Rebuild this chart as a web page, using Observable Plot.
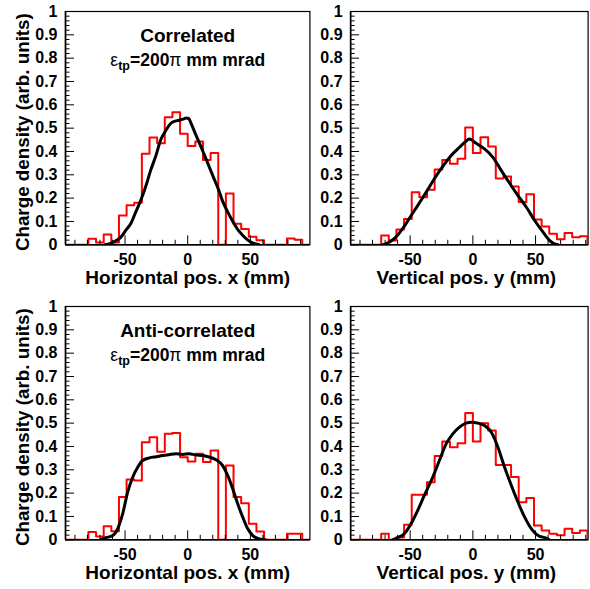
<!DOCTYPE html>
<html><head><meta charset="utf-8">
<script src="https://cdn.jsdelivr.net/npm/d3@7"></script>
<script src="https://cdn.jsdelivr.net/npm/@observablehq/plot@0.6"></script>
<style>
body{margin:0;background:#fff;}
#chart{position:relative;width:590px;height:589px;overflow:hidden;background:#fff;}
#chart svg{position:absolute;}
</style></head><body><div id="chart"></div>
<script>
// ---- histogram binning (32 bins across the axis range) ----
const binStart = -97.5;
const binWidth = 6.09375;

// ---- red histograms (measured) ----
const histCorrX = [0,0,0,0.026,0.01,0.044,0.01,0.126,0.17,0.18,0.39,0.46,0.435,0.547,0.568,0.476,0.423,0.443,0.364,0.394,0,0.22,0.09,0.068,0.035,0.019,0,0,0,0.027,0.022,0];
const histCorrY = [0,0,0,0,0.04,0.018,0.066,0.111,0.225,0.204,0.236,0.323,0.364,0.347,0.369,0.503,0.393,0.461,0.421,0.284,0.293,0.25,0.183,0.217,0.108,0.078,0.047,0.024,0.051,0.032,0.037,0];
const histAntiX = [0,0,0,0.033,0.014,0.058,0.037,0.183,0.258,0.254,0.418,0.44,0.377,0.455,0.458,0.354,0.336,0.369,0.333,0.383,0,0.318,0.183,0.157,0.069,0.036,0,0,0,0.026,0.026,0];
const histAntiY = [0,0,0,0,0.026,0,0.01,0.065,0.193,0.193,0.247,0.359,0.421,0.397,0.414,0.544,0.421,0.5,0.469,0.321,0.321,0.269,0.161,0.179,0.061,0.04,0.026,0.019,0.047,0.029,0.04,0];

// ---- black simulated curves (position mm, density) ----
const simCorrXpos = [-66,-62,-57,-53,-49,-45.5,-41.5,-37.5,-33.5,-29.5,-25.5,-21.5,-17.5,-13.6,-10,-6,-3,-1,1,2.7,6.6,11.4,16,20.5,24.7,28,32,36,40,44,48,52.4,57];
const simCorrXval = [0,0.005,0.018,0.035,0.065,0.09,0.14,0.19,0.25,0.32,0.38,0.45,0.49,0.52,0.53,0.535,0.54,0.544,0.54,0.52,0.47,0.41,0.35,0.29,0.235,0.185,0.14,0.1,0.065,0.04,0.02,0.007,0];
const simCorrYpos = [-72,-69.4,-62.7,-56,-50.1,-44,-37.3,-30.7,-24,-17.3,-10.7,-4.8,-2.7,2.7,9.3,16,22.7,29.3,36,42.7,49.3,56,61.3,66.7,68];
const simCorrYval = [0,0.004,0.026,0.069,0.118,0.168,0.225,0.283,0.336,0.383,0.418,0.447,0.454,0.435,0.411,0.375,0.318,0.264,0.211,0.161,0.104,0.054,0.018,0.001,0];
const simAntiXpos = [-70,-65.2,-59.9,-55.9,-51.9,-47.9,-43.9,-39.9,-35.9,-30.6,-25,-20,-15,-9.3,-4,1.3,6,12,17,22.6,27.9,31.9,35.9,39.9,43.9,47.9,51.9,57.2,62];
const simAntiXval = [0,0.009,0.018,0.047,0.111,0.204,0.268,0.311,0.34,0.351,0.356,0.361,0.365,0.369,0.366,0.369,0.364,0.361,0.355,0.343,0.318,0.276,0.219,0.154,0.097,0.047,0.018,0.004,0];
const simAntiYpos = [-64,-60,-54.7,-49.3,-44,-38.7,-32,-26.7,-21.3,-16,-10.7,-5.3,-1.3,4,9.3,14.7,20,25.3,30.7,36,41.3,46.7,52,57.3,61];
const simAntiYval = [0,0.009,0.026,0.069,0.126,0.19,0.268,0.34,0.411,0.454,0.483,0.5,0.504,0.5,0.49,0.461,0.397,0.311,0.233,0.161,0.097,0.047,0.018,0.009,0];

// ---- ticks & texts ----
const xMajorTicks = [-50, 0, 50];
const xMinorTicks = [-90,-80,-70,-60,-40,-30,-20,-10,10,20,30,40,60,70,80,90];
const yMajorTicks = [0,0.1,0.2,0.3,0.4,0.5,0.6,0.7,0.8,0.9,1];
const yMinorTicks = d3.range(0, 1.0001, 0.02).filter(v => Math.abs(v*10 - Math.round(v*10)) > 1e-6);
const yTitle = "Charge density (arb. units)";
const xTitleH = "Horizontal pos. x (mm)";
const xTitleV = "Vertical pos. y (mm)";
const titleCorr = "Correlated";
const titleAnti = "Anti-correlated";
const emitLine = "εtp=200π mm mrad";

const FONT = "'Liberation Sans', Arial, Helvetica, sans-serif";

function panel(o) {
  const fw = o.width - o.mLeft - o.mRight;
  const fh = o.height - o.mTop - o.mBottom;
  const histPts = o.hist.map((v, k) => ({x: binStart + k * binWidth, v}));
  histPts.push({x: binStart + o.hist.length * binWidth, v: 0});
  const simPts = o.simX.map((x, i) => ({x, v: o.simV[i]}));
  const marks = [
    Plot.line(histPts, {x: "x", y: "v", curve: "step-after", stroke: "#ff0000", strokeWidth: 2, clip: true}),
    Plot.line(simPts, {x: "x", y: "v", curve: "monotone-x", stroke: "#000", strokeWidth: 3, clip: true}),
    Plot.frame({stroke: "#000", strokeWidth: 1.2}),
    Plot.ruleY([0], {stroke: "#000", strokeWidth: 1.6}),
    Plot.ruleX([o.xDomain[0]], {stroke: "#000", strokeWidth: 1.6}),
    Plot.ruleX(xMinorTicks, {x: d => d, insetTop: fh - 4.5, stroke: "#000", strokeWidth: 1}),
    Plot.ruleX(xMajorTicks, {x: d => d, insetTop: fh - 9, stroke: "#000", strokeWidth: 1}),
    Plot.ruleY(yMinorTicks, {y: d => d, insetRight: fw - 4.5, stroke: "#000", strokeWidth: 1}),
    Plot.ruleY(yMajorTicks, {y: d => d, insetRight: fw - 9, stroke: "#000", strokeWidth: 1}),
    Plot.text(yMajorTicks, {y: d => d, text: d => (d === 0 || d === 1) ? String(d) : d.toFixed(1), frameAnchor: "left", dx: -8, textAnchor: "end", lineAnchor: "middle", fontSize: 16, fontWeight: "bold", fill: "#000"}),
    Plot.text(xMajorTicks, {x: d => d, text: d => d < 0 ? "-" + Math.abs(d) : String(d), frameAnchor: "bottom", dy: 8.7, textAnchor: "middle", lineAnchor: "top", fontSize: 16, fontWeight: "bold", fill: "#000"}),
    Plot.text([o.xTitle], {text: d => d, frameAnchor: "bottom", dy: 33, dx: o.xTitleDx || 0, textAnchor: "middle", lineAnchor: "middle", fontSize: 19, fontWeight: "bold", fill: "#000"})
  ];
  if (o.yTitle) marks.push(Plot.text([o.yTitle], {text: d => d, frameAnchor: "left", dx: -43, dy: 4, rotate: -90, textAnchor: "middle", lineAnchor: "middle", fontSize: 18.8, fontWeight: "bold", fill: "#000"}));
  if (o.title) {
    marks.push(Plot.text([o.title], {text: d => d, frameAnchor: "top", dy: 24.6, textAnchor: "middle", lineAnchor: "middle", fontSize: 19, fontWeight: "bold", fill: "#000"}));
    marks.push(Plot.text([emitLine], {text: d => d, frameAnchor: "top", dy: 48.5, textAnchor: "middle", lineAnchor: "middle", fontSize: 17.5, fontWeight: "bold", fill: "#000"}));
  }
  const svg = Plot.plot({
    width: o.width, height: o.height,
    marginLeft: o.mLeft, marginRight: o.mRight, marginTop: o.mTop, marginBottom: o.mBottom,
    x: {domain: o.xDomain, axis: null},
    y: {domain: [0, 1], axis: null},
    style: {background: "transparent", fontFamily: FONT, color: "#000", overflow: "visible"},
    marks
  });
  // rich text for the emittance line: subscript "tp", symbol-weight ε and π
  svg.querySelectorAll("text").forEach(t => {
    if (t.textContent === emitLine) {
      t.textContent = "";
      const parts = [
        {s: "ε", w: "normal"},
        {s: "tp", w: "bold", size: 12.5, dy: "0.35em"},
        {s: "=200", w: "bold", dy: "-0.25em"},
        {s: "π", w: "normal"},
        {s: " mm mrad", w: "bold"}
      ];
      for (const p of parts) {
        const ts = document.createElementNS("http://www.w3.org/2000/svg", "tspan");
        ts.textContent = p.s;
        ts.setAttribute("font-weight", p.w);
        if (p.size) ts.setAttribute("font-size", p.size);
        if (p.dy) ts.setAttribute("dy", p.dy);
        t.appendChild(ts);
      }
    }
  });
  svg.style.left = o.left + "px";
  svg.style.top = o.top + "px";
  return svg;
}

const chart = document.getElementById("chart");
chart.appendChild(panel({hist: histCorrX, simX: simCorrXpos, simV: simCorrXval, left: 0, top: 0, width: 320, height: 295, mLeft: 65, mRight: 10.6, mTop: 11, mBottom: 50.7, xDomain: [-97.5, 97.5], xTitle: xTitleH, yTitle, title: titleCorr}));
chart.appendChild(panel({hist: histCorrY, simX: simCorrYpos, simV: simCorrYval, left: 290, top: 0, width: 300, height: 295, mLeft: 60.1, mRight: 2.4, mTop: 11, mBottom: 50.7, xDomain: [-97.5, 91.9], xTitle: xTitleV, xTitleDx: -3}));
chart.appendChild(panel({hist: histAntiX, simX: simAntiXpos, simV: simAntiXval, left: 0, top: 295, width: 320, height: 294, mLeft: 65, mRight: 10.6, mTop: 11, mBottom: 49.7, xDomain: [-97.5, 97.5], xTitle: xTitleH, yTitle, title: titleAnti}));
chart.appendChild(panel({hist: histAntiY, simX: simAntiYpos, simV: simAntiYval, left: 290, top: 295, width: 300, height: 294, mLeft: 60.1, mRight: 2.4, mTop: 11, mBottom: 49.7, xDomain: [-97.5, 91.9], xTitle: xTitleV, xTitleDx: -3}));
</script></body></html>
